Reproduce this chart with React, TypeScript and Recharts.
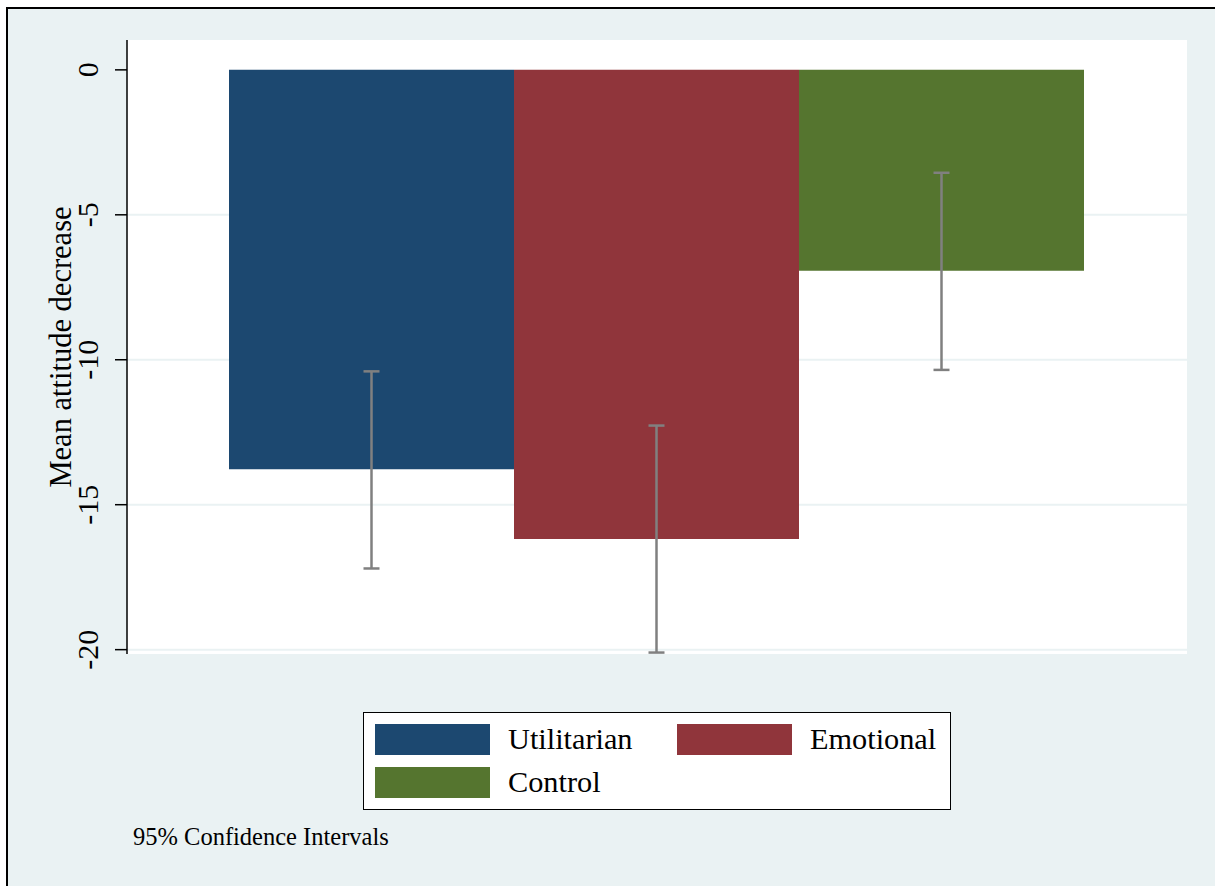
import { BarChart, Bar, XAxis, YAxis, CartesianGrid, ErrorBar } from 'recharts'

const groups = ['Utilitarian', 'Emotional', 'Control']
const groupKeys = ['utilitarian', 'emotional', 'control']
const groupColors = ['#1C4870', '#90353B', '#55752F']
const means = [-13.78, -16.18, -6.93]
const ciLow = [-17.2, -20.1, -10.35]
const ciHigh = [-10.4, -12.27, -3.55]
const yTicks = [0, -5, -10, -15, -20]
const gridValues = [-5, -10, -15, -20]

const FONT = '"Liberation Serif", "Times New Roman", serif'
const BG = '#EAF2F3'

// one row, one bar per group; error bars take [below, above] offsets from the mean
const chartRow: Record<string, number | number[] | string> = { name: '' }
groupKeys.forEach((key, i) => {
  chartRow[key] = means[i]
  chartRow[key + 'Err'] = [means[i] - ciLow[i], ciHigh[i] - means[i]]
})
const chartData = [chartRow]

function RotatedTick(props: any) {
  const { x, y, payload } = props
  const bx = x - 15
  return (
    <text
      x={bx}
      y={y}
      transform={`rotate(-90, ${bx}, ${y})`}
      textAnchor="middle"
      fontFamily={FONT}
      fontSize={30}
      fill="#000"
    >
      {payload.value}
    </text>
  )
}

function YTitle(props: any) {
  const { viewBox } = props
  const cx = 71
  const cy = viewBox.y + viewBox.height / 2
  return (
    <text
      x={cx}
      y={cy}
      transform={`rotate(-90, ${cx}, ${cy})`}
      textAnchor="middle"
      fontFamily={FONT}
      fontSize={30.5}
      fill="#000"
    >
      Mean attitude decrease
    </text>
  )
}

function LegendBox() {
  const rows = [
    [0, 1],
    [2]
  ]
  return (
    <div
      style={{
        position: 'absolute',
        left: 363,
        top: 712,
        width: 588,
        height: 98,
        background: '#fff',
        border: '1.5px solid #000',
        boxSizing: 'border-box',
        fontFamily: FONT,
        fontSize: 30.3
      }}
    >
      {rows.map((row, r) =>
        row.map((idx, c) => (
          <div
            key={idx}
            style={{ position: 'absolute', left: 11 + c * 302, top: 11 + r * 43, display: 'flex', alignItems: 'center' }}
          >
            <div style={{ width: 115, height: 31, background: groupColors[idx] }} />
            <span style={{ marginLeft: 18, lineHeight: '31px' }}>{groups[idx]}</span>
          </div>
        ))
      )}
    </div>
  )
}

export default function App() {
  return (
    <div style={{ position: 'absolute', left: 0, top: 0, width: 1215, height: 886, background: '#fff', overflow: 'hidden' }}>
      <div
        style={{
          position: 'absolute',
          left: 6,
          top: 7,
          width: 1260,
          height: 950,
          background: BG,
          borderTop: '2px solid #000',
          borderLeft: '2px solid #000'
        }}
      />
      <div style={{ position: 'absolute', left: 0, top: 0 }}>
        <BarChart
          width={1215}
          height={886}
          data={chartData}
          margin={{ top: 40, right: 28, bottom: 232, left: 0 }}
          barCategoryGap={102}
          barGap={0}
        >
          <CartesianGrid
            vertical={false}
            horizontalValues={gridValues}
            stroke={BG}
            strokeWidth={2}
            fill="#fff"
            fillOpacity={1}
          />
          <XAxis dataKey="name" height={0} tick={false} tickLine={false} axisLine={{ stroke: '#000', strokeWidth: 2.5 }} />
          <YAxis
            width={127}
            domain={[-20.15, 1.03]}
            ticks={yTicks}
            interval={0}
            tickSize={12}
            tickLine={{ stroke: '#000', strokeWidth: 1.5 }}
            axisLine={{ stroke: '#000', strokeWidth: 1.5 }}
            tick={<RotatedTick />}
            label={<YTitle />}
          />
          {groupKeys.map((key, i) => (
            <Bar key={key} dataKey={key} name={groups[i]} fill={groupColors[i]} isAnimationActive={false}>
              <ErrorBar dataKey={key + 'Err'} width={8} stroke="#808080" strokeWidth={2.5} direction="y" />
            </Bar>
          ))}
        </BarChart>
      </div>
      <LegendBox />
      <div style={{ position: 'absolute', left: 133, top: 822, fontFamily: FONT, fontSize: 24.5, color: '#000', lineHeight: '30px' }}>
        95% Confidence Intervals
      </div>
    </div>
  )
}
